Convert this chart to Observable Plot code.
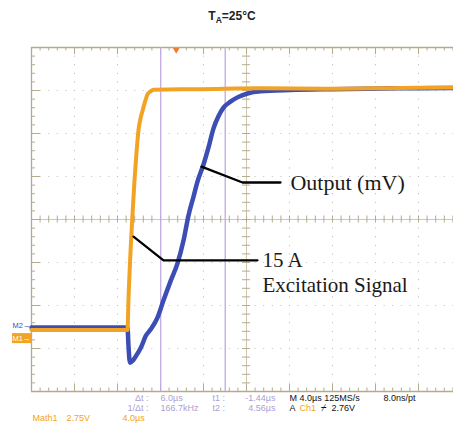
<!DOCTYPE html>
<html><head><meta charset="utf-8">
<script src="https://cdn.jsdelivr.net/npm/d3@7"></script>
<script src="https://cdn.jsdelivr.net/npm/@observablehq/plot@0.6"></script>
<style>body{margin:0;background:#fff}#chart{width:453px;height:423px;overflow:hidden}</style>
</head><body><div id="chart"></div>
<script>
// ---- scope settings ----
const timePerDiv = 4;        // µs per division
const triggerDiv = 3.365;    // trigger position (divisions from left)
const cursors = [-1.44, 4.56];   // t1, t2 (µs)

// ---- traces (time µs, level in divisions) ----
const excitationT = [-13.46,-4.53,-4.44,-4.09,-3.88,-3.69,-3.51,-3.32,-3.13,-2.86,-2.67,-2.39,-2.11,2.26,7.84,14.35,20.86,26.54];
const excitationV = [-2.57,-2.57,-1.88,0,0.91,1.56,2.07,2.35,2.53,2.77,2.91,2.98,3.02,3.03,3.05,3.04,3.06,3.07];
const outputT = [-13.46,-4.53,-4.44,-4.30,-3.97,-3.60,-3.23,-2.86,-2.39,-1.74,-1.18,-0.53,0.12,0.68,1.14,1.61,1.98,2.54,3.00,3.47,3.93,4.40,5.05,5.70,6.63,7.84,10.63,14.35,20.86,26.54];
const outputV = [-2.51,-2.51,-2.93,-3.33,-3.26,-3.12,-2.95,-2.72,-2.56,-2.28,-1.88,-1.44,-1.02,-0.49,0.09,0.53,0.88,1.28,1.67,2.12,2.40,2.60,2.74,2.84,2.93,2.98,3.01,3.03,3.05,3.06];

// ---- annotations ----
const outputLeaderT = [2.35, 6.17, 9.70];
const outputLeaderV = [1.23, 0.86, 0.86];
const excitLeaderT = [-3.97, -1.18, 7.56];
const excitLeaderV = [-0.40, -0.95, -0.95];
const annotationTexts = ["Output (mV)", "15 A", "Excitation Signal"];

// ---- readouts ----
const titleMain = "T", titleSub = "A", titleRest = "=25°C";
const cursorNames = ["Δt :", "1/Δt :", "t1 :", "t2 :"];
const cursorReadouts = ["6.0µs", "166.7kHz", "-1.44µs", "4.56µs"];
const horizReadout = ["M 4.0µs 125MS/s", "8.0ns/pt"];
const triggerReadout = ["A", "Ch1", "⌿", "2.76V"];
const mathReadout = ["Math1", "2.75V", "4.0µs"];
const refMarkers = [{label: "M2", level: -2.47}, {label: "M1", level: -2.77}];

const ORANGE = "#f2a324", BLUE = "#3c4db3", GRID = "#b4aa8e", DOT = "#b9b9b9", CURSOR = "#c1a9e2", CURTEXT = "#ab9fd3";
const xMin = -triggerDiv * timePerDiv, xMax = (10 - triggerDiv) * timePerDiv;
const pxPerDiv = 43;
const px2t = p => p / pxPerDiv * timePerDiv; // px length -> µs
const px2v = p => p / pxPerDiv;              // px length -> div

const excitation = excitationT.map((t, i) => ({t, v: excitationV[i]}));
const output = outputT.map((t, i) => ({t, v: outputV[i]}));
const leader1 = outputLeaderT.map((t, i) => ({t, v: outputLeaderV[i]}));
const leader2 = excitLeaderT.map((t, i) => ({t, v: excitLeaderV[i]}));

// graticule
const majorX = d3.range(0, 11).map(k => xMin + k * timePerDiv);
const majorY = d3.range(-4, 5);
const minorX = d3.range(0, 51).map(k => xMin + k * timePerDiv / 5);
const minorY = d3.range(0, 41).map(k => -4 + k / 5);
const dots = [];
majorX.forEach((x, k) => { if (k > 0 && k < 10 && k !== 5) minorY.forEach(y => dots.push({x, y})); });
majorY.forEach(y => { if (y > -4 && y < 4 && y !== 0) minorX.forEach(x => dots.push({x, y})); });
const xCenter = majorX[5];

const statusFont = "Liberation Sans, Arial, sans-serif";
const txt = (s, dx, dy, anchor, fill) => Plot.text([s], {text: d => d, frameAnchor: "top-left", dx, dy, textAnchor: anchor, lineAnchor: "middle", fill, fontSize: 9, fontFamily: statusFont});

const chart = Plot.plot({
  width: 453, height: 423, margin: 0,
  x: {domain: [xMin, xMax], range: [31, 461], axis: null},
  y: {domain: [-4, 4], range: [391, 47], axis: null},
  marks: [
    Plot.dot(dots, {x: "x", y: "y", r: 0.6, fill: DOT}),
    // center cross
    Plot.ruleY([0], {x1: xMin, x2: xMax, stroke: "#cfc7b3", strokeWidth: 1}),
    Plot.ruleX([xCenter], {y1: -4, y2: 4, stroke: "#cfc7b3", strokeWidth: 1}),
    Plot.ruleX(minorX, {y1: -px2v(3.5), y2: px2v(3.5), stroke: GRID}),
    Plot.ruleY(minorY, {x1: xCenter - px2t(4), x2: xCenter + px2t(4), stroke: GRID}),
    // border
    Plot.ruleX([xMin], {y1: -4, y2: 4, stroke: GRID, strokeWidth: 1.3}),
    Plot.ruleY([-4, 4], {x1: xMin, x2: xMax, stroke: GRID, strokeWidth: 1.3}),
    Plot.ruleY(minorY, {x1: xMin, x2: (y, i) => xMin + px2t(i % 5 === 0 ? 9 : 4), stroke: GRID}),
    Plot.ruleX(minorX, {y1: 4, y2: (x, i) => 4 - px2v(i % 5 === 0 ? 7 : 3.5), stroke: GRID}),
    Plot.ruleX(minorX, {y1: -4, y2: (x, i) => -4 + px2v(i % 5 === 0 ? 7 : 3.5), stroke: GRID}),
    // cursors
    Plot.ruleX(cursors, {y1: -4, y2: 4, stroke: CURSOR, strokeWidth: 1.3}),
    // traces
    Plot.line(output, {x: "t", y: "v", stroke: BLUE, strokeWidth: 4.5, curve: "monotone-x"}),
    Plot.line(excitation, {x: "t", y: "v", stroke: ORANGE, strokeWidth: 4, curve: "monotone-x"}),
    // trigger marker
    Plot.dot([0], {x: d => d, y: 4, symbol: "triangle2", r: 3.2, rotate: 180, dy: 2.5, fill: "#f07a30"}),
    // reference markers
    Plot.rect([refMarkers[1]], {x1: xMin - px2t(19), x2: xMin, y1: d => d.level - px2v(5), y2: d => d.level + px2v(5), fill: ORANGE}),
    Plot.text(refMarkers, {x: xMin, y: "level", text: d => d.label + "→", textAnchor: "end", dx: -1, fontSize: 7.5, fontFamily: statusFont, fill: (d, i) => i === 0 ? BLUE : "#fff"}),
    // annotation leaders
    Plot.line(leader1, {x: "t", y: "v", stroke: "#000", strokeWidth: 2.3}),
    Plot.line(leader2, {x: "t", y: "v", stroke: "#000", strokeWidth: 2.3}),
    Plot.text([annotationTexts[0]], {x: outputLeaderT[2] + px2t(10), y: outputLeaderV[2], text: d => d, textAnchor: "start", lineAnchor: "middle", fontSize: 22, fontFamily: "Liberation Serif, Times New Roman, serif", fill: "#1a1a1a"}),
    Plot.text([annotationTexts[1]], {x: excitLeaderT[2] + px2t(5), y: excitLeaderV[2], text: d => d, textAnchor: "start", lineAnchor: "middle", fontSize: 21, fontFamily: "Liberation Serif, Times New Roman, serif", fill: "#1a1a1a"}),
    Plot.text([annotationTexts[2]], {x: excitLeaderT[2] + px2t(5), y: excitLeaderV[2] - px2v(25), text: d => d, textAnchor: "start", lineAnchor: "middle", fontSize: 21, fontFamily: "Liberation Serif, Times New Roman, serif", fill: "#1a1a1a"}),
    // status readouts
    txt(cursorNames[0], 148, 398, "end", CURTEXT),
    txt(cursorNames[1], 148, 408, "end", CURTEXT),
    txt(cursorReadouts[0], 160, 398, "start", CURTEXT),
    txt(cursorReadouts[1], 160, 408, "start", CURTEXT),
    txt(cursorNames[2], 212, 398, "start", CURTEXT),
    txt(cursorNames[3], 212, 408, "start", CURTEXT),
    txt(cursorReadouts[2], 275, 398, "end", CURTEXT),
    txt(cursorReadouts[3], 275, 408, "end", CURTEXT),
    txt(horizReadout[0], 289, 398, "start", "#111"),
    txt(horizReadout[1], 383, 398, "start", "#111"),
    txt(triggerReadout[0], 289, 408, "start", "#111"),
    txt(triggerReadout[1], 299, 408, "start", ORANGE),
    txt(triggerReadout[2], 320, 408, "start", "#111"),
    txt(triggerReadout[3], 331, 408, "start", "#111"),
    txt(mathReadout[0], 32, 417.5, "start", ORANGE),
    txt(mathReadout[1], 66, 417.5, "start", ORANGE),
    txt(mathReadout[2], 122, 417.5, "start", ORANGE)
  ]
});
const svg = d3.select(chart);
const title = svg.append("text").attr("x", 232).attr("y", 20).attr("text-anchor", "middle")
  .attr("font-family", "Liberation Sans, Arial, sans-serif").attr("font-weight", "bold").attr("font-size", 12).attr("fill", "#222");
title.append("tspan").text(titleMain);
title.append("tspan").attr("font-size", 8.5).attr("dy", 3).text(titleSub);
title.append("tspan").attr("dy", -3).text(titleRest);
document.getElementById("chart").appendChild(chart);
</script></body></html>
